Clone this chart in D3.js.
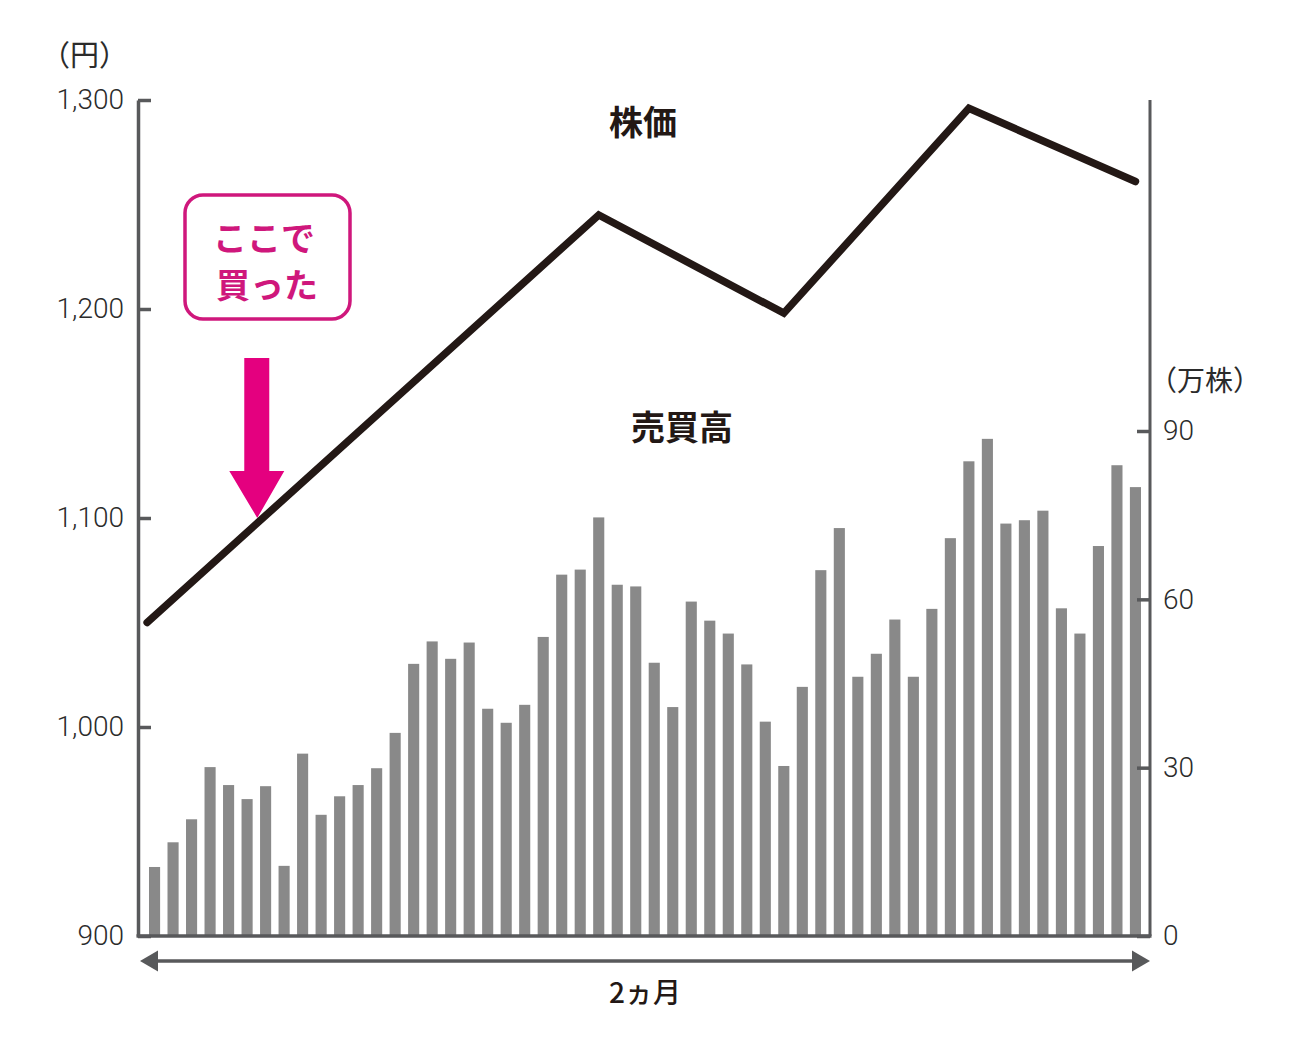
<!DOCTYPE html>
<html>
<head>
<meta charset="utf-8">
<script src="https://cdn.jsdelivr.net/npm/d3@7"></script>
<style>
    body { margin: 0; background: #fff; }
</style>
</head>
<body>
<div id="chart"></div>
<script>

// volume per trading day (万株), 2 months
let volume = [12.3, 16.7, 20.8, 30.1, 26.9, 24.4, 26.7, 12.5, 32.5, 21.6,
    24.9, 26.9, 29.9, 36.2, 48.5, 52.5, 49.4, 52.3, 40.5, 38.0,
    41.2, 53.3, 64.4, 65.3, 74.6, 62.6, 62.3, 48.7, 40.8, 59.6,
    56.2, 53.9, 48.4, 38.2, 30.3, 44.4, 65.2, 72.7, 46.2, 50.3,
    56.4, 46.2, 58.3, 70.9, 84.6, 88.6, 73.5, 74.1, 75.8, 58.4,
    53.9, 69.5, 83.9, 80.0];
// stock price turning points (day index, 円)
let priceDay = [-0.4, 24, 34, 44, 53];
let priceYen = [1050, 1245, 1198, 1296, 1261];
let priceTicks = [900, 1000, 1100, 1200, 1300];
let volumeTicks = [0, 30, 60, 90];
// the buy point that the callout points at
let buyDay = 5.55;
let buyPrice = 1100;

/** Class drawing the price line over the volume bars. */
class PriceVolumeChart {

    constructor() {
        this.svg = d3.select('#chart')
            .append('svg')
            .attr('width', 1300)
            .attr('height', 1040)
        ;
        this.buildChart();
    };

    buildChart() {
        let left = 138;
        let right = 1150;
        let top = 100;
        let bottom = 936;
        let axisColor = '#58595b';
        let numFont = 'Roboto';
        let jpFont = '"Noto Sans CJK JP"';
        let pink = '#e4007f';
        let pinkText = '#cf177c';

        let band = d3.scaleBand()
            .domain(d3.range(volume.length))
            .range([145.3, 1144.7])
            .paddingInner(0.4)
            .paddingOuter(0.2)
        ;
        // day index -> centre of that day's bar
        let xDay = d3.scaleLinear()
            .domain([0, volume.length - 1])
            .range([band(0) + band.bandwidth() / 2, band(volume.length - 1) + band.bandwidth() / 2])
        ;
        let yPrice = d3.scaleLinear()
            .domain([900, 1300])
            .range([bottom, top])
        ;
        let yVol = d3.scaleLinear()
            .domain([0, 90])
            .range([bottom, 431])
        ;

        // bars
        this.svg.append('g')
            .selectAll('rect')
            .data(volume)
            .enter()
            .append('rect')
            .attr('x', (d, i) => band(i))
            .attr('y', d => yVol(d))
            .attr('width', band.bandwidth())
            .attr('height', d => bottom - yVol(d))
            .style('fill', '#898989')
        ;

        // left axis
        let leftAxis = this.svg.append('g')
            .attr('transform', `translate(${left},0)`)
            .call(d3.axisLeft(yPrice)
                .tickValues(priceTicks)
                .tickFormat(d3.format(','))
                .tickSizeInner(-13)
                .tickSizeOuter(0)
                .tickPadding(14))
        ;
        // right axis, its line drawn separately so it reaches the top
        let rightAxis = this.svg.append('g')
            .attr('transform', `translate(${right},0)`)
            .call(d3.axisRight(yVol)
                .tickValues(volumeTicks)
                .tickSizeInner(-13)
                .tickSizeOuter(0)
                .tickPadding(13))
        ;
        rightAxis.select('.domain').remove();
        this.svg.append('line')
            .attr('x1', right).attr('x2', right)
            .attr('y1', top).attr('y2', bottom)
            .style('stroke', axisColor)
            .style('stroke-width', 3)
        ;
        [leftAxis, rightAxis].forEach(ax => {
            ax.selectAll('.domain, line')
                .style('stroke', axisColor)
                .style('stroke-width', 3.5)
            ;
            ax.selectAll('text')
                .style('font-family', numFont)
                .style('font-weight', 300)
                .style('font-size', '28px')
                .style('fill', '#2b2b2b')
            ;
        });
        // bottom axis line
        this.svg.append('line')
            .attr('x1', left - 1.5).attr('x2', right + 1.5)
            .attr('y1', bottom).attr('y2', bottom)
            .style('stroke', axisColor)
            .style('stroke-width', 3.5)
        ;

        // unit labels
        this.svg.append('text')
            .text('（円）')
            .attr('x', 41)
            .attr('y', 66)
            .style('font-family', jpFont)
            .style('font-weight', 400)
            .style('font-size', '29px')
            .style('fill', '#2b2b2b')
        ;
        this.svg.append('text')
            .text('（万株）')
            .attr('x', 1149)
            .attr('y', 391)
            .style('font-family', jpFont)
            .style('font-weight', 400)
            .style('font-size', '28px')
            .style('fill', '#2b2b2b')
        ;

        // price line
        let line = d3.line()
            .x(d => xDay(d[0]))
            .y(d => yPrice(d[1]))
        ;
        this.svg.append('path')
            .datum(d3.zip(priceDay, priceYen))
            .attr('d', line)
            .style('fill', 'none')
            .style('stroke', '#231815')
            .style('stroke-width', 7.5)
            .style('stroke-linejoin', 'miter')
            .style('stroke-linecap', 'round')
        ;

        // series titles
        this.svg.append('text')
            .text('株価')
            .attr('x', 643)
            .attr('y', 135)
            .attr('text-anchor', 'middle')
            .style('font-family', jpFont)
            .style('font-weight', 700)
            .style('font-size', '34px')
            .style('fill', '#231815')
        ;
        this.svg.append('text')
            .text('売買高')
            .attr('x', 682)
            .attr('y', 440)
            .attr('text-anchor', 'middle')
            .style('font-family', jpFont)
            .style('font-weight', 700)
            .style('font-size', '34px')
            .style('fill', '#231815')
        ;

        // 2ヵ月 double arrow
        let arrowY = 961;
        this.svg.append('line')
            .attr('x1', left + 12).attr('x2', right - 12)
            .attr('y1', arrowY).attr('y2', arrowY)
            .style('stroke', axisColor)
            .style('stroke-width', 3.5)
        ;
        this.svg.append('path')
            .attr('d', `M${left + 2},${arrowY} l18,-10.5 v21 Z`)
            .style('fill', axisColor)
        ;
        this.svg.append('path')
            .attr('d', `M${right},${arrowY} l-18,-10.5 v21 Z`)
            .style('fill', axisColor)
        ;
        this.svg.append('text')
            .text('2ヵ月')
            .attr('x', 645)
            .attr('y', 1003)
            .attr('text-anchor', 'middle')
            .style('font-family', jpFont)
            .style('font-weight', 500)
            .style('font-size', '28px')
            .style('fill', '#231815')
        ;

        // callout: ここで買った
        let tipX = xDay(buyDay);
        let tipY = yPrice(buyPrice);
        this.svg.append('path')
            .attr('d', `M${tipX},${tipY} l-28,-47 h15 v-113 h25 v113 h15 Z`)
            .style('fill', pink)
        ;
        this.svg.append('rect')
            .attr('x', 185)
            .attr('y', 195)
            .attr('width', 165)
            .attr('height', 124)
            .attr('rx', 18)
            .style('fill', '#fff')
            .style('stroke', pinkText)
            .style('stroke-width', 3.5)
        ;
        this.svg.append('text')
            .text('ここで')
            .attr('x', 264)
            .attr('y', 251)
            .attr('text-anchor', 'middle')
            .style('font-family', jpFont)
            .style('font-weight', 700)
            .style('font-size', '34px')
            .style('fill', pinkText)
        ;
        this.svg.append('text')
            .text('買った')
            .attr('x', 267)
            .attr('y', 298)
            .attr('text-anchor', 'middle')
            .style('font-family', jpFont)
            .style('font-weight', 700)
            .style('font-size', '34px')
            .style('fill', pinkText)
        ;
    }
}

new PriceVolumeChart();
</script>
</body>
</html>
